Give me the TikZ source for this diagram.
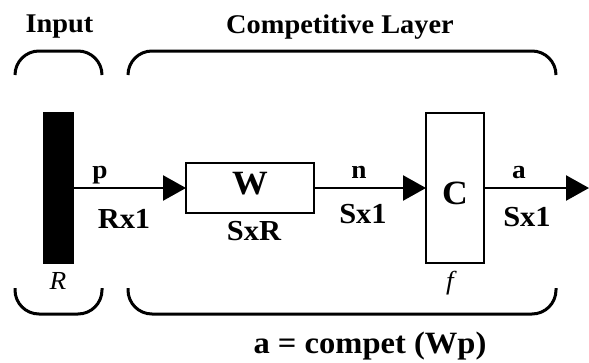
\documentclass[tikz,border=0pt]{standalone}
\usepackage{fontspec}
\setmainfont{Liberation Serif}[FakeStretch=1.05]
\usetikzlibrary{positioning,arrows.meta}

\begin{document}
\begin{tikzpicture}[x=1pt,y=-1pt,
  box/.style={draw,line width=2.6pt,fill=white,inner sep=0pt,outer sep=0pt,font=\fontsize{34}{36}\selectfont\bfseries},
  bar/.style={fill=black,inner sep=0pt,outer sep=0pt,minimum width=31pt,minimum height=152pt},
  arr/.style={-{Triangle[length=23pt,width=25pt]},line width=2.5pt},
  lbl/.style={anchor=base,inner sep=0pt,font=\fontsize{29}{32}\selectfont\bfseries},
  sig/.style={lbl,font=\fontsize{26}{28}\selectfont\bfseries},
  ttl/.style={lbl,font=\fontsize{27}{30}\selectfont\bfseries},
  sizelbl/.style={anchor=base,inner sep=0pt,font=\fontsize{26}{28}\selectfont\itshape},
  brace/.style={line width=3pt,rounded corners=24pt}]
\useasboundingbox (0,0) rectangle (589,362);
% input, weights, competition
\node[bar] (bar) at (58.5,188) {};
\node[box,minimum width=128pt,minimum height=50pt,text height=12pt,text depth=0pt,right=112pt of bar] (W) {W};
\node[box,minimum width=58pt,minimum height=150pt,text height=32pt,text depth=0pt,right=112pt of W] (C) {C};
\coordinate[right=105pt of C] (out);
\draw[arr] (bar)--(W); \draw[arr] (W)--(C); \draw[arr] (C)--(out);
% signal names and sizes
\node[sig] (p) at (100,178) {p};
\node[sig] (n) at (359,178) {n};
\node[sig] (a) at (519,178) {a};
\node[lbl] (rx1) at (124,228) {Rx1};
\node[lbl] (sxr) at (254,240) {SxR};
\node[lbl] (sx1n) at (363,223) {Sx1};
\node[lbl] (sx1a) at (527,226) {Sx1};
\node[sizelbl] (R) at (58,289) {R};
\node[sizelbl] (f) at (450,289) {f};
% titles and braces
\node[ttl] (input) at (59.5,32) {Input};
\node[ttl] (layer) at (340,33) {Competitive Layer};
\draw[brace] (15,75)--(15,51)--(102,51)--(102,75);
\draw[brace] (128,75)--(128,51)--(556,51)--(556,75);
\draw[brace] (15,288)--(15,314)--(102,314)--(102,288);
\draw[brace] (128,288)--(128,314)--(556,314)--(556,288);
\node[lbl,font=\fontsize{31}{34}\selectfont\bfseries] (eq) at (370,353) {a = compet (Wp)};
\end{tikzpicture}
\end{document}
